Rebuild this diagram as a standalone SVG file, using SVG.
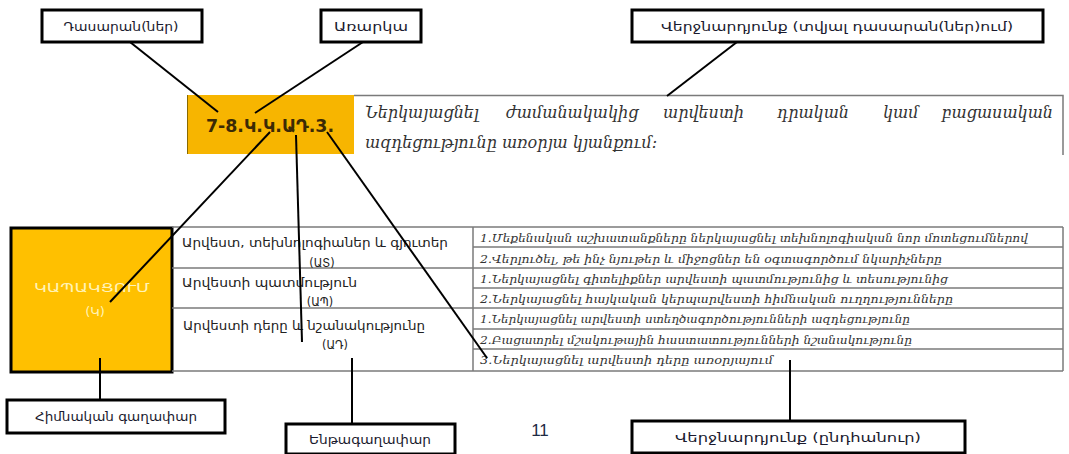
<svg xmlns="http://www.w3.org/2000/svg" width="1069" height="454" viewBox="0 0 1069 454">
<style>
.lbl{fill:#fff;stroke:#000;stroke-width:3}
.lt{font-family:"DejaVu Sans Condensed","DejaVu Sans",sans-serif;font-size:13px;fill:#1a1a2e;text-anchor:middle}
.conn line{stroke:#000;stroke-width:2}
.grid{stroke:#7a7a7a;stroke-width:1.5;fill:none}
.cell{font-family:"DejaVu Sans Condensed","DejaVu Sans",sans-serif;font-size:12.5px;fill:#222}
.out{font-family:"DejaVu Serif Condensed","DejaVu Serif","DejaVu Sans",serif;font-style:italic;font-size:11px;fill:#333}
.desc{font-family:"DejaVu Serif","DejaVu Sans",serif;font-style:italic;font-size:16px;fill:#333}
</style>
<rect width="1069" height="454" fill="#fff"/>

<g id="code">
<rect x="187" y="95" width="167" height="59" fill="#F7B500"/>
<line x1="187.5" y1="95" x2="187.5" y2="154" stroke="#8a6a00" stroke-width="1"/>
<text x="270" y="132" text-anchor="middle" font-family="'DejaVu Sans','Liberation Sans',sans-serif" font-weight="bold" font-size="17" fill="#3b2a05" textLength="128" lengthAdjust="spacingAndGlyphs">7-8.Կ.Կ.ԱԴ.3.</text>
</g>

<g id="description">
<polyline points="354,95.5 1063,95.5 1063,155" class="grid"/>
<g class="desc">
<text x="365" y="118">Ներկայացնել</text>
<text x="506" y="118">ժամանակակից</text>
<text x="663" y="118">արվեստի</text>
<text x="777" y="118">դրական</text>
<text x="883" y="118">կամ</text>
<text x="1053" y="118" text-anchor="end">բացասական</text>
<text x="365" y="148">ազդեցությունը առօրյա կյանքում:</text>
</g>
</g>

<g id="idea">
<rect x="11" y="228" width="161" height="144" fill="#FFC000" stroke="#000" stroke-width="3"/>
<text x="92" y="292" text-anchor="middle" font-family="'DejaVu Sans','Liberation Sans',sans-serif" font-size="13" fill="#FFF3B8" textLength="116" lengthAdjust="spacingAndGlyphs">ԿԱՊԱԿՑՈՒՄ</text>
<text x="95" y="316" text-anchor="middle" font-family="'DejaVu Sans','Liberation Sans',sans-serif" font-size="13" fill="#FFF3B8">(Կ)</text>
</g>

<g id="table">
<line class="grid" x1="172" y1="227" x2="1063" y2="227"/>
<line class="grid" x1="172" y1="268" x2="473" y2="268"/>
<line class="grid" x1="172" y1="308" x2="473" y2="308"/>
<line class="grid" x1="172" y1="371" x2="1063" y2="371"/>
<line class="grid" x1="473" y1="247" x2="1063" y2="247"/>
<line class="grid" x1="473" y1="268" x2="1063" y2="268"/>
<line class="grid" x1="473" y1="288" x2="1063" y2="288"/>
<line class="grid" x1="473" y1="308" x2="1063" y2="308"/>
<line class="grid" x1="473" y1="329" x2="1063" y2="329"/>
<line class="grid" x1="473" y1="349" x2="1063" y2="349"/>
<line class="grid" x1="473" y1="227" x2="473" y2="371"/>
<line class="grid" x1="1063" y1="227" x2="1063" y2="371"/>
<g class="cell">
<text x="182" y="247" textLength="266" lengthAdjust="spacingAndGlyphs">Արվեստ, տեխնոլոգիաներ և գյուտեր</text>
<text x="322" y="267" text-anchor="middle">(ԱՏ)</text>
<text x="182" y="287" textLength="175" lengthAdjust="spacingAndGlyphs">Արվեստի պատմություն</text>
<text x="320" y="306" text-anchor="middle">(ԱՊ)</text>
<text x="183" y="330" textLength="242" lengthAdjust="spacingAndGlyphs">Արվեստի դերը և նշանակությունը</text>
<text x="335" y="349" text-anchor="middle">(ԱԴ)</text>
</g>
<g class="out">
<text x="480" y="242" textLength="548" lengthAdjust="spacingAndGlyphs">1.Մեքենական աշխատանքները ներկայացնել տեխնոլոգիական նոր մոտեցումներով</text>
<text x="480" y="263" textLength="462" lengthAdjust="spacingAndGlyphs">2.Վերլուծել, թե ինչ նյութեր և միջոցներ են օգտագործում նկարիչները</text>
<text x="480" y="283" textLength="468" lengthAdjust="spacingAndGlyphs">1.Ներկայացնել գիտելիքներ արվեստի պատմությունից և տեսությունից</text>
<text x="480" y="303" textLength="473" lengthAdjust="spacingAndGlyphs">2.Ներկայացնել հայկական կերպարվեստի հիմնական ուղղությունները</text>
<text x="480" y="323" textLength="430" lengthAdjust="spacingAndGlyphs">1.Ներկայացնել արվեստի ստեղծագործությունների ազդեցությունը</text>
<text x="480" y="344" textLength="432" lengthAdjust="spacingAndGlyphs">2.Բացատրել մշակութային հաստատությունների նշանակությունը</text>
<text x="480" y="364" textLength="293" lengthAdjust="spacingAndGlyphs">3.Ներկայացնել արվեստի դերը առօրյայում</text>
</g>
</g>

<g id="label-grade">
<rect class="lbl" x="42" y="10" width="160" height="32"/>
<text class="lt" x="121" y="31" textLength="115" lengthAdjust="spacingAndGlyphs">Դասարան(ներ)</text>
</g>
<g id="label-subject">
<rect class="lbl" x="321" y="10" width="100" height="32"/>
<text class="lt" x="371" y="31" textLength="74" lengthAdjust="spacingAndGlyphs">Առարկա</text>
</g>
<g id="label-outcome-grade">
<rect class="lbl" x="632" y="10" width="411" height="32"/>
<text class="lt" x="837" y="31" textLength="352" lengthAdjust="spacingAndGlyphs">Վերջնարդյունք (տվյալ դասարան(ներ)ում)</text>
</g>
<g id="label-main-idea">
<rect class="lbl" x="7" y="400" width="218" height="33"/>
<text class="lt" x="116" y="421" textLength="162" lengthAdjust="spacingAndGlyphs">Հիմնական գաղափար</text>
</g>
<g id="label-subidea">
<rect class="lbl" x="286" y="424" width="169" height="30"/>
<text class="lt" x="370" y="444" textLength="122" lengthAdjust="spacingAndGlyphs">Ենթագաղափար</text>
</g>
<g id="label-outcome-general">
<rect class="lbl" x="632" y="421" width="333" height="32"/>
<text class="lt" x="798" y="442" textLength="246" lengthAdjust="spacingAndGlyphs">Վերջնարդյունք (ընդհանուր)</text>
</g>

<g id="page-number">
<text x="540" y="436" text-anchor="middle" font-family="'Liberation Sans',Arial,sans-serif" font-size="17" fill="#1f2a44">11</text>
</g>

<g class="conn" id="connectors">
<line x1="130" y1="42" x2="218" y2="112"/>
<line x1="363" y1="42" x2="255" y2="113"/>
<line x1="737" y1="42" x2="667" y2="96"/>
<line x1="270" y1="132" x2="110" y2="302"/>
<line x1="296" y1="135" x2="302" y2="342"/>
<line x1="327" y1="132" x2="487" y2="358"/>
<line x1="100" y1="358" x2="100" y2="400"/>
<line x1="352" y1="358" x2="352" y2="424"/>
<line x1="790" y1="360" x2="790" y2="421"/>
</g>
</svg>
